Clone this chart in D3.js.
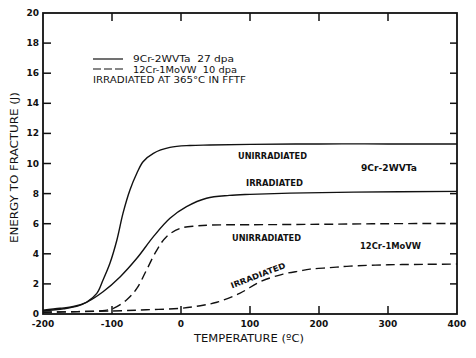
<!DOCTYPE html>
<html><head><meta charset="utf-8">
<script src="https://cdn.jsdelivr.net/npm/d3@7"></script>
<style>
html,body{margin:0;padding:0;background:#fff;}
text{font-family:"DejaVu Sans",sans-serif;fill:#111;}
</style></head>
<body><svg id="c" width="476" height="358"></svg>
<script>
// ---- data ----
const t9u = [-200,-170,-150,-137,-122,-113,-103,-93,-84,-74,-64,-55,-40,-16,13,42,100,200,300,400];
const e9u = [0.2,0.35,0.52,0.78,1.37,2.26,3.37,4.9,6.7,8.24,9.35,10.12,10.68,11.07,11.2,11.23,11.27,11.3,11.3,11.3];
const t9i = [-200,-175,-156,-137,-113,-88,-64,-40,-16,8,37,70,100,158,250,400];
const e9i = [0.25,0.38,0.5,0.78,1.48,2.48,3.7,5.14,6.36,7.13,7.69,7.88,7.95,8.03,8.1,8.15];
const t12u = [-200,-150,-110,-98,-79,-64,-50,-35,-21,-1,23,42,100,200,300,400];
const e12u = [0.12,0.16,0.24,0.38,0.93,1.7,2.92,4.25,5.14,5.69,5.85,5.91,5.93,5.96,6.0,6.02];
const t12i = [-200,-100,-50,0,28,52,85,115,148,172,187,216,245,300,356,400];
const e12i = [0.12,0.2,0.28,0.38,0.55,0.78,1.37,2.15,2.65,2.86,2.98,3.08,3.18,3.27,3.3,3.32];
const xTicks = [-200,-100,0,100,200,300,400];
const yTicks = [0,2,4,6,8,10,12,14,16,18,20];

const svg = d3.select("#c");
const L=43,R=457,T=13,B=314;
const x = d3.scaleLinear().domain([-200,400]).range([L,R]);
const y = d3.scaleLinear().domain([0,20]).range([B,T]);

const g = svg.append("g");
const tl = 8;
xTicks.slice(1,-1).forEach(v=>{
  g.append("line").attr("x1",x(v)).attr("x2",x(v)).attr("y1",B).attr("y2",B-tl).attr("stroke","#111").attr("stroke-width",1.5);
  g.append("line").attr("x1",x(v)).attr("x2",x(v)).attr("y1",T).attr("y2",T+tl).attr("stroke","#111").attr("stroke-width",1.5);
});
yTicks.slice(1,-1).forEach(v=>{
  g.append("line").attr("x1",L).attr("x2",L+tl).attr("y1",y(v)).attr("y2",y(v)).attr("stroke","#111").attr("stroke-width",1.5);
  g.append("line").attr("x1",R).attr("x2",R-7).attr("y1",y(v)).attr("y2",y(v)).attr("stroke","#111").attr("stroke-width",1.5);
});
g.append("rect").attr("x",L).attr("y",T).attr("width",R-L).attr("height",B-T)
  .attr("fill","none").attr("stroke","#111").attr("stroke-width",1.8);

xTicks.forEach(v=>{
  g.append("text").attr("x",x(v)).attr("y",327).attr("text-anchor","middle")
   .attr("font-size",9).attr("font-weight","bold").text(v);
});
yTicks.forEach(v=>{
  g.append("text").attr("x",39).attr("y",y(v)+3).attr("text-anchor","end")
   .attr("font-size",9).attr("font-weight","bold").text(v);
});

g.append("text").attr("x",194).attr("y",342)
  .attr("font-size",10.5).attr("textLength",110).attr("lengthAdjust","spacingAndGlyphs").text("TEMPERATURE (ºC)");
g.append("text").attr("transform","translate(18,243) rotate(-90)")
  .attr("font-size",10.5).attr("textLength",151).attr("lengthAdjust","spacingAndGlyphs").text("ENERGY TO FRACTURE (J)");

const line = d3.line().x(d=>x(d[0])).y(d=>y(d[1])).curve(d3.curveCatmullRom.alpha(0.5));
function draw(ts,es,dash){
  g.append("path").datum(ts.map((t,i)=>[t,es[i]])).attr("d",line)
   .attr("fill","none").attr("stroke","#111").attr("stroke-width",1.4)
   .attr("stroke-dasharray",dash?"9,5":null);
}
draw(t9u,e9u,false);
draw(t9i,e9i,false);
draw(t12u,e12u,true);
draw(t12i,e12i,true);

g.append("line").attr("x1",93).attr("x2",123).attr("y1",59).attr("y2",59).attr("stroke","#111").attr("stroke-width",1.2);
g.append("line").attr("x1",93).attr("x2",123).attr("y1",69).attr("y2",69).attr("stroke","#111").attr("stroke-width",1.2).attr("stroke-dasharray","8,3");
g.append("text").attr("x",133).attr("y",62).attr("font-size",9).attr("xml:space","preserve")
  .attr("textLength",101).attr("lengthAdjust","spacingAndGlyphs").text("9Cr-2WVTa  27 dpa");
g.append("text").attr("x",133).attr("y",72.5).attr("font-size",9).attr("xml:space","preserve")
  .attr("textLength",104).attr("lengthAdjust","spacingAndGlyphs").text("12Cr-1MoVW  10 dpa");
g.append("text").attr("x",93).attr("y",83).attr("font-size",9).attr("textLength",153)
  .attr("lengthAdjust","spacingAndGlyphs").text("IRRADIATED AT 365°C IN FFTF");

function lab(tx,xx,yy,w,rot){
  const t=g.append("text").attr("font-size",8).attr("font-weight","bold").text(tx);
  if(rot){ t.attr("transform",`translate(${xx},${yy}) rotate(${rot})`).attr("text-anchor","middle"); }
  else t.attr("x",xx).attr("y",yy);
  if(w) t.attr("textLength",w).attr("lengthAdjust","spacingAndGlyphs");
}
lab("UNIRRADIATED",238,159,69);
lab("9Cr-2WVTa",361,171,56);
lab("IRRADIATED",246,186,57);
lab("UNIRRADIATED",232,241,69);
lab("12Cr-1MoVW",360,249,61);
lab("IRRADIATED",259,278,58,-21);
</script></body></html>
